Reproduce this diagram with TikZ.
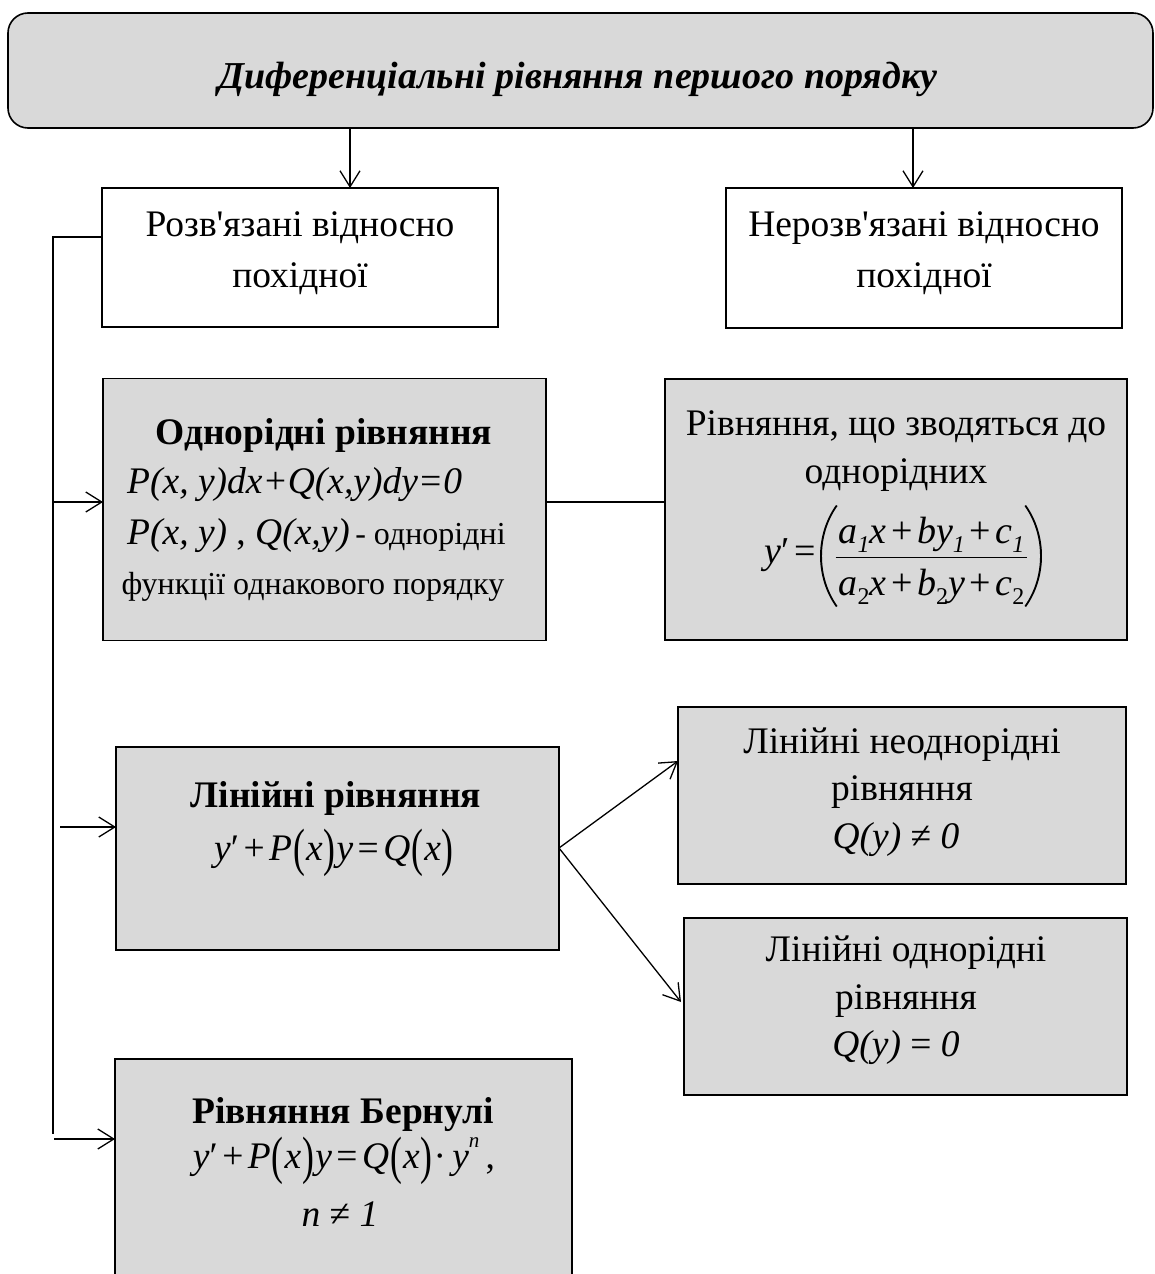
\documentclass[tikz,border=0pt]{standalone}
\usepackage{fontspec}
\usepackage{graphicx}
\setmainfont{Liberation Serif}
\newfontfamily\straightfont{Liberation Serif}
\usetikzlibrary{arrows.meta}
\definecolor{boxgray}{HTML}{D9D9D9}

% italic variable, taller parentheses, operator spacing, indices
\newcommand\vi[1]{\textit{#1}}
\newcommand\pl[1]{\hspace{1pt}\raisebox{-0.15em}{\scalebox{0.95}[1.4]{#1}}\hspace{1pt}}
\newcommand\op[1]{\hspace{0.12em}#1\hspace{0.12em}}
\newcommand\lowidx[1]{\raisebox{-0.25em}{\fontsize{24}{24}\selectfont #1}}
\newcommand\highidx[1]{\raisebox{0.55em}{\fontsize{21}{21}\selectfont #1}}
\newcommand\apos{{\straightfont'}}
% fraction: numerator over a rule over denominator, aligned on numerator baseline
\newcommand\fracstack[2]{\raisebox{20pt}{\setlength{\arrayrulewidth}{1.4pt}\setlength{\tabcolsep}{3pt}%
  \begin{tabular}[t]{c}#1\\\hline\rule{0pt}{37pt}#2\end{tabular}}}

\tikzset{
  frame/.style={draw=black, line width=1.6pt, inner sep=0pt, outer sep=0pt},
  graybox/.style={frame, fill=boxgray},
  whitebox/.style={frame, fill=white},
  link/.style={line width=1.3pt},
  arr/.style={link, -{Straight Barb[length=16pt,width=20pt]}},
  txt/.style={anchor=base, inner sep=0pt, font=\fontsize{37.5}{45}\selectfont},
  txtl/.style={txt, anchor=base west},
  txtr/.style={txt, anchor=base east},
  heading/.style={txt, font=\fontsize{37.5}{45}\selectfont\bfseries},
  small/.style={font=\fontsize{32}{38}\selectfont},
  paren/.style={fill=black, draw=none},
}

\begin{document}
\begin{tikzpicture}[x=1pt,y=-1pt]
\useasboundingbox (0,0) rectangle (1155,1274);
\clip (0,0) rectangle (1155,1274);

% ---- boxes ----
\node[graybox, rounded corners=20pt, minimum width=1145pt, minimum height=115pt] (top) at (580.5,70.5) {};
\node[whitebox, minimum width=396pt, minimum height=139pt] (rozv) at (300,257.5) {};
\node[whitebox, minimum width=396pt, minimum height=140pt] (nerozv) at (924,258) {};
\node[graybox, minimum width=443pt, minimum height=262pt] (odn) at (324.5,509.5) {};
\node[graybox, minimum width=462pt, minimum height=261pt] (zvod) at (896,509.5) {};
\node[graybox, minimum width=443pt, minimum height=203pt] (lin) at (337.5,848.5) {};
\node[graybox, minimum width=448pt, minimum height=177pt] (neodn) at (902,795.5) {};
\node[graybox, minimum width=443pt, minimum height=177pt] (odnor) at (905.5,1006.5) {};
\node[graybox, minimum width=457pt, minimum height=260pt] (bern) at (343.5,1189) {};

% ---- texts ----
\node[txt, font=\fontsize{38}{46}\selectfont\bfseries\itshape] (ttop) at (578,88)
  {Диференціальні рівняння першого порядку};

\node[txt] (trozv1) at (300,236) {Розв\apos язані відносно};
\node[txt] (trozv2) at (300,287) {похідної};
\node[txt] (tner1) at (924,236) {Нерозв\apos язані відносно};
\node[txt] (tner2) at (924,287) {похідної};

\node[heading] (todn) at (324,444) {Однорідні рівняння};
\node[txtl] (todnf1) at (127,493) {\vi{P(x, y)dx+Q(x,y)dy=0}};
\node[txtl] (todnf2) at (127,544) {\vi{P(x, y)} , \vi{Q(x,y)}{\fontsize{32}{38}\selectfont\,- однорідні}};
\node[txt, small] (todnf3) at (313,594) {функції однакового порядку};

\node[txt] (tzv1) at (896,435) {Рівняння, що зводяться до};
\node[txt] (tzv2) at (896,483) {однорідних};
\node[txtr, font=\fontsize{38}{46}\selectfont] (tzvy) at (816,563) {\vi{y}′\op{=}};
\node[txt, font=\fontsize{38}{46}\selectfont] (tzvf) at (931.5,563)
  {\fracstack
    {\vi{a}\lowidx{\itshape 1}\vi{x}\op{+}\vi{b}\vi{y}\lowidx{\itshape 1}\op{+}\vi{c}\lowidx{\itshape 1}}
    {\vi{a}\lowidx{2}\vi{x}\op{+}\vi{b}\lowidx{2}\vi{y}\op{+}\vi{c}\lowidx{2}}};
% large parentheses around the fraction
\fill[paren] (836,505) .. controls (814.7,535) and (814.7,577) .. (836,607)
  -- (837.5,606) .. controls (816.8,577) and (816.8,535) .. (837.5,506) -- cycle;
\fill[paren] (1026,505) .. controls (1047.3,535) and (1047.3,577) .. (1026,607)
  -- (1024.5,606) .. controls (1045.2,577) and (1045.2,535) .. (1024.5,506) -- cycle;

\node[heading] (tlin) at (336,807) {Лінійні рівняння};
\node[txt] (tlinf) at (334,860) {\vi{y}′\op{+}\vi{P}\pl{(}\vi{x}\pl{)}\vi{y}\op{=}\vi{Q}\pl{(}\vi{x}\pl{)}};

\node[txt] (tne1) at (902,753) {Лінійні неоднорідні};
\node[txt] (tne2) at (902,800) {рівняння};
\node[txt] (tne3) at (896,848) {\vi{Q(y)} ≠ \vi{0}};

\node[txt] (tod1) at (906,961) {Лінійні однорідні};
\node[txt] (tod2) at (906,1009) {рівняння};
\node[txt] (tod3) at (896,1056) {\vi{Q(y)} = \vi{0}};

\node[heading] (tber) at (343,1123) {Рівняння Бернулі};
\node[txt] (tberf) at (344,1168) {\vi{y}′\op{+}\vi{P}\pl{(}\vi{x}\pl{)}\vi{y}\op{=}\vi{Q}\pl{(}\vi{x}\pl{)}·\,\vi{y}\highidx{\itshape n}\,,};
\node[txt] (tbern) at (340,1226) {\vi{n} ≠ \vi{1}};

% ---- connectors ----
\coordinate (xl) at (350,0);
\coordinate (xr) at (913,0);
\draw[arr] (top.south -| xl) -- (rozv.north -| xl);
\draw[arr] (top.south -| xr) -- (nerozv.north -| xr);

\coordinate (r1) at (53,237);
\coordinate (r4) at (53,1134);
\draw[link] (rozv.west |- r1) -- (r1) -- (r4);

\coordinate (a1) at (53,502);
\coordinate (a2) at (60,827);
\coordinate (a3) at (54,1139);
\draw[arr] (a1) -- (odn.west |- a1);
\draw[arr] (a2) -- (lin.west |- a2);
\draw[arr] (a3) -- (bern.west |- a3);

\draw[link] (odn.east |- a1) -- (zvod.west |- a1);

\coordinate (fork) at (559,848);
\coordinate (e1) at (0,761);
\coordinate (e2) at (0,1002);
\draw[arr] (fork) -- (neodn.west |- e1);
\draw[arr] (fork) -- ([xshift=-3pt]odnor.west |- e2);
\end{tikzpicture}
\end{document}
